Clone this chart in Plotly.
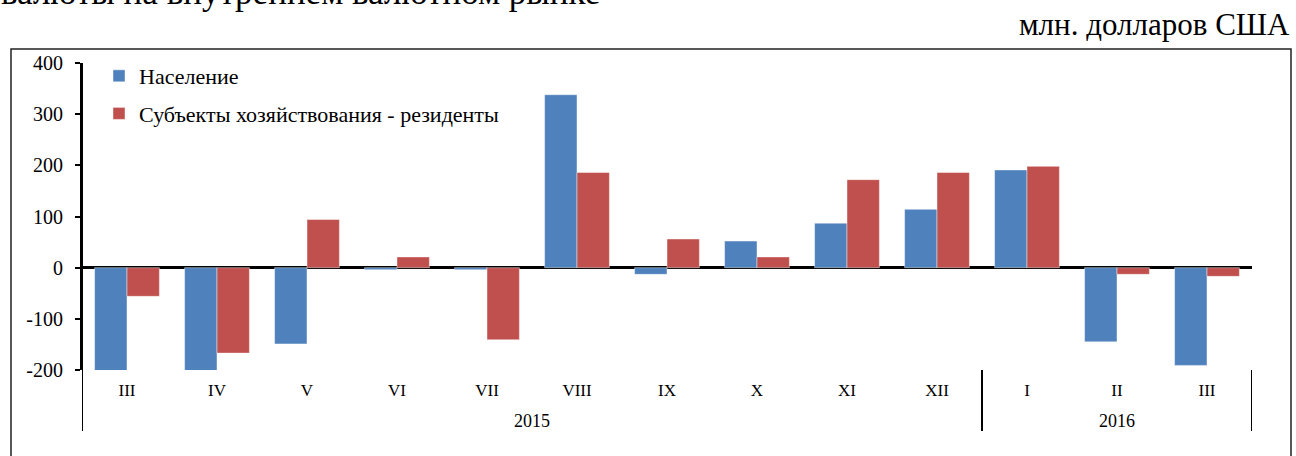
import plotly.graph_objects as go

months = ["III", "IV", "V", "VI", "VII", "VIII", "IX", "X", "XI", "XII", "I", "II", "III"]
years = ["2015", "2016"]
year_centers = [4.5, 11]
separators = [-0.5, 9.5, 12.5]

population = [-204, -204, -149, -4, -4, 338, -13, 52, 87, 114, 191, -145, -191]
enterprises = [-56, -167, 94, 21, -141, 186, 56, 21, 172, 186, 198, -13, -17]

y_ticks = [-200, -100, 0, 100, 200, 300, 400]
y_labels = ["-200", "-100", "0", "100", "200", "300", "400"]

names = ["Население", "Субъекты хозяйствования - резиденты"]
colors = ["#4F81BD", "#C0504D"]

FONT = "Liberation Serif, Times New Roman, serif"
x = list(range(len(months)))

fig = go.Figure()
for i, (vals, nm, col) in enumerate(zip([population, enterprises], names, colors)):
    fig.add_trace(go.Bar(
        x=x, y=vals, name=nm, legendgroup=f"g{i}",
        marker=dict(color=col, line=dict(color="rgba(255,255,255,0.55)", width=0.8)),
    ))

# plot box geometry: left 82, right 1252, top 63, bottom 370
W, H = 1296, 456
L, R, T, B = 82, 1252, 63, 370
pw, ph = R - L, B - T

def px_to_paper_x(px):
    return (px - L) / pw

def px_to_paper_y(py):
    return (B - py) / ph

shapes = []
# outer frame
shapes.append(dict(type="rect", xref="paper", yref="paper",
                   x0=px_to_paper_x(11), x1=px_to_paper_x(1291),
                   y0=px_to_paper_y(470), y1=px_to_paper_y(49),
                   line=dict(color="#222", width=1.5), fillcolor="rgba(0,0,0,0)", layer="below"))
# category separators
for s in separators:
    shapes.append(dict(type="line", xref="x", yref="paper", x0=s, x1=s,
                       y0=px_to_paper_y(431), y1=0 if s != -0.5 else 1,
                       line=dict(color="black", width=2)))

annotations = []
for yr, c in zip(years, year_centers):
    annotations.append(dict(x=c, y=px_to_paper_y(421), xref="x", yref="paper",
                            text=yr, showarrow=False, yanchor="middle",
                            font=dict(family=FONT, size=18, color="black")))
annotations.append(dict(x=px_to_paper_x(1292), y=px_to_paper_y(25), xref="paper", yref="paper",
                        text="млн. долларов США", showarrow=False, xanchor="right", yanchor="middle",
                        font=dict(family=FONT, size=31, color="black")))
annotations.append(dict(x=px_to_paper_x(0), y=px_to_paper_y(13), xref="paper", yref="paper",
                        text="валюты на внутреннем валютном рынке", showarrow=False,
                        xanchor="left", yanchor="bottom", borderpad=0,
                        font=dict(family=FONT, size=35, color="black")))

fig.update_layout(
    width=W, height=H,
    margin=dict(l=L, r=W - R, t=T, b=H - B, autoexpand=False),
    paper_bgcolor="white", plot_bgcolor="white",
    barmode="group", bargap=0.28, bargroupgap=0,
    font=dict(family=FONT, color="black"),
    showlegend=True,
    legend=dict(x=px_to_paper_x(99), y=px_to_paper_y(55), xanchor="left", yanchor="top",
                bgcolor="rgba(0,0,0,0)", font=dict(family=FONT, size=22, color="black"),
                traceorder="grouped", tracegroupgap=6),
    xaxis=dict(range=[-0.5, 12.5], tickmode="array", tickvals=x, ticktext=months,
               showgrid=False, zeroline=False, showline=False, ticks="",
               tickfont=dict(family=FONT, size=17, color="black"),
               ticklabelstandoff=8, fixedrange=True, automargin=False),
    yaxis=dict(range=[-200, 400], tickmode="array", tickvals=y_ticks, ticktext=y_labels,
               showgrid=False, zeroline=True, zerolinecolor="black", zerolinewidth=3,
               showline=True, linecolor="black", linewidth=2,
               ticks="outside", ticklen=5, tickwidth=1.5, tickcolor="black",
               tickfont=dict(family=FONT, size=20, color="black"), fixedrange=True,
               ticklabelstandoff=8, automargin=False),
    shapes=shapes, annotations=annotations,
)

fig.write_html("out.html", config={"displayModeBar": False},
               post_script="document.body.style.margin='0';document.body.style.padding='0';")
